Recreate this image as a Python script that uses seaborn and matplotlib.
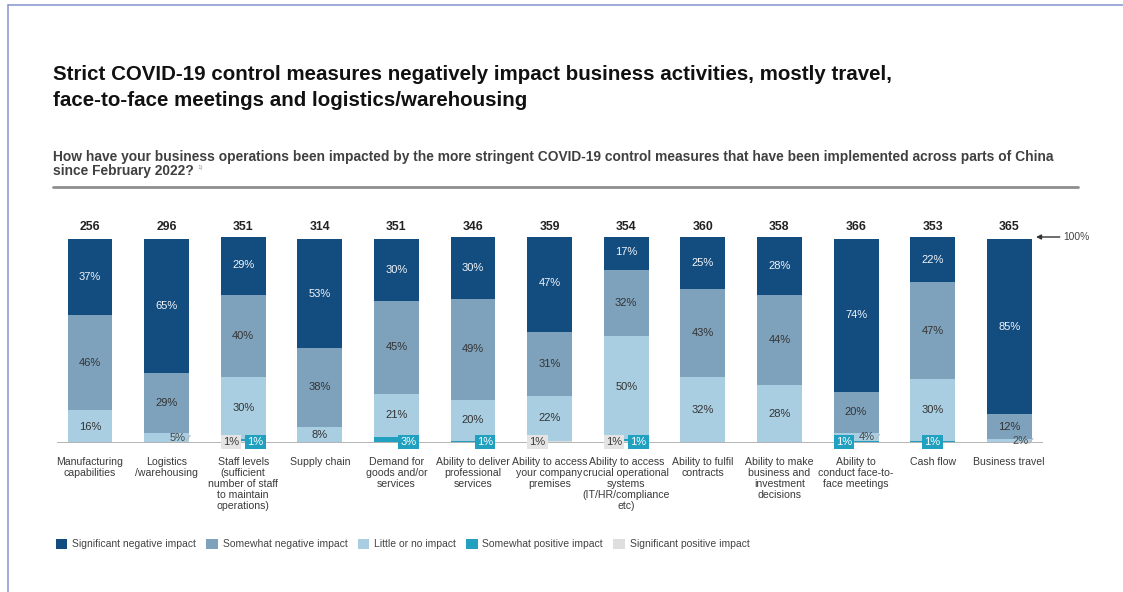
import matplotlib
matplotlib.use("Agg")
import matplotlib.pyplot as plt
from matplotlib.lines import Line2D
from matplotlib.patches import Patch
import pandas as pd
import seaborn as sns

# ---- data -------------------------------------------------------------
categories = [
    "Manufacturing\ncapabilities",
    "Logistics\n/warehousing",
    "Staff levels\n(sufficient\nnumber of staff\nto maintain\noperations)",
    "Supply chain",
    "Demand for\ngoods and/or\nservices",
    "Ability to deliver\nprofessional\nservices",
    "Ability to access\nyour company\npremises",
    "Ability to access\ncrucial operational\nsystems\n(IT/HR/compliance\netc)",
    "Ability to fulfil\ncontracts",
    "Ability to make\nbusiness and\ninvestment\ndecisions",
    "Ability to\nconduct face-to-\nface meetings",
    "Cash flow",
    "Business travel",
]
respondents = [256, 296, 351, 314, 351, 346, 359, 354, 360, 358, 366, 353, 365]

significant_negative = [37, 65, 29, 53, 30, 30, 47, 17, 25, 28, 74, 22, 85]
somewhat_negative = [46, 29, 40, 38, 45, 49, 31, 32, 43, 44, 20, 47, 12]
little_or_none = [16, 5, 30, 8, 21, 20, 22, 50, 32, 28, 4, 30, 2]
somewhat_positive = [0, 0, 1, 0, 3, 1, 0, 1, 0, 0, 1, 1, 0]
significant_positive = [0, 0, 1, 0, 0, 0, 1, 1, 0, 0, 0, 0, 0]

series_names = [
    "Significant negative impact",
    "Somewhat negative impact",
    "Little or no impact",
    "Somewhat positive impact",
    "Significant positive impact",
]

# ---- style ------------------------------------------------------------
sns.set_theme(style="white")
plt.rcParams["font.family"] = ["Liberation Sans", "DejaVu Sans"]

colors = ["#134d80", "#7fa2bc", "#a9cee1", "#21a0c0", "#dedede"]
BAR_W = 0.587
LABEL_FS = 8

fig = plt.figure(figsize=(11.23, 5.92), dpi=100)
ax = fig.add_axes([57 / 1123, 1 - 443 / 592, 986 / 1123, 206 / 592])

# series listed top of the stack first; the stack is built bottom-up
series_top_down = [significant_negative, somewhat_negative, little_or_none,
                   somewhat_positive, significant_positive]

# draw cumulative heights so each lower layer paints over the one above it
for k, color in enumerate(colors):
    heights = [sum(s[i] for s in series_top_down[k:]) for i in range(len(categories))]
    df = pd.DataFrame({"category": categories, "share": heights})
    sns.barplot(data=df, x="category", y="share", order=categories, color=color,
                saturation=1, width=BAR_W, linewidth=0, errorbar=None, ax=ax)

ax.set_xlim(-0.431, 12.441)
ax.set_ylim(0, 100)
sns.despine(ax=ax, left=True, bottom=True)
ax.set_ylabel("")
ax.set_xlabel("")
ax.set_yticks([])
ax.set_xticks(range(len(categories)))
ax.set_xticklabels(categories, fontsize=7.6, color="#3a3a3a", linespacing=1.12)
ax.tick_params(axis="x", length=0, pad=10)
ax.axhline(0, color="#b4b4b4", lw=1.4, zorder=5)

# ---- segment labels ---------------------------------------------------
positive_box_align = {2: "right", 4: "right", 5: "right", 7: "right", 10: "left", 11: "center"}
stack_bottom_up = list(reversed(series_top_down))  # sig. positive ... sig. negative
for i in range(len(categories)):
    base = 0
    for j, values in enumerate(stack_bottom_up):
        v = values[i]
        mid = base + v / 2
        base += v
        if v <= 0:
            continue
        if v >= 8:
            ax.text(i, mid, f"{v}%", ha="center", va="center", fontsize=LABEL_FS,
                    color="#f2f5f9" if j == 4 else "#333333", zorder=6)
        elif j == 2:
            ax.text(i + BAR_W / 2 - 0.045, mid, f"{v}%", ha="right", va="center",
                    fontsize=LABEL_FS, color="#444444", zorder=6)
            ax.plot([i + BAR_W / 2 - 0.035, i + BAR_W / 2 + 0.015], [mid - 1.2, mid + 1.2],
                    color="#bbbbbb", lw=0.8, zorder=6, clip_on=False)
        elif j == 1:
            align = positive_box_align.get(i, "center")
            x = {"left": i - BAR_W / 2 + 0.03, "right": i + BAR_W / 2 - 0.03,
                 "center": i}[align]
            ax.text(x, 0.4, f"{v}%", ha=align, va="center", fontsize=LABEL_FS,
                    color="white", zorder=7,
                    bbox=dict(boxstyle="square,pad=0.2", fc=colors[3], ec="none"))
        else:
            ax.text(i - BAR_W / 2 + 0.03, 0.4, f"{v}%", ha="left", va="center",
                    fontsize=LABEL_FS, color="#3a3a3a", zorder=7,
                    bbox=dict(boxstyle="square,pad=0.2", fc="#e4e4e4", ec="none"))

# respondent counts above each bar
for i, n in enumerate(respondents):
    ax.text(i, 105, str(n), ha="center", va="center", fontsize=8.8,
            fontweight="bold", color="#222222")

# 100% marker
ax.annotate("", xy=(12.35, 100), xytext=(12.66, 100), annotation_clip=False,
            arrowprops=dict(arrowstyle="-|>", color="#333333", lw=1,
                            mutation_scale=7, shrinkA=0, shrinkB=0))
ax.text(12.70, 100, "100%", ha="left", va="center", fontsize=7.4, color="#444444")

# ---- titles -----------------------------------------------------------
title_font = ["Liberation Sans Narrow", "Liberation Sans", "DejaVu Sans"]
fig.text(53 / 1123, 1 - 75 / 592,
         "Strict COVID-19 control measures negatively impact business activities, mostly travel,",
         family=title_font, fontweight="bold", fontsize=14.8, color="#111111", va="center")
fig.text(53 / 1123, 1 - 101 / 592,
         "face-to-face meetings and logistics/warehousing",
         family=title_font, fontweight="bold", fontsize=14.8, color="#111111", va="center")

fig.text(53 / 1123, 1 - 157 / 592,
         "How have your business operations been impacted by the more stringent COVID-19 "
         "control measures that have been implemented across parts of China",
         fontsize=9.9, fontweight="bold", color="#404040", va="center")
sub2 = fig.text(53 / 1123, 1 - 171 / 592, "since February 2022?",
                fontsize=9.9, fontweight="bold", color="#404040", va="center")
ax.annotate("1)", xy=(1, 1), xycoords=sub2, xytext=(2.5, -1), textcoords="offset points",
            fontsize=4.5, color="#9a9a9a", va="top", ha="left", annotation_clip=False)

fig.add_artist(Line2D([53 / 1123, 1078 / 1123], [1 - 187 / 592] * 2,
                      color="#8e8e8e", lw=2, transform=fig.transFigure))

# page frame
frame = "#8495cf"
fig.add_artist(Line2D([8 / 1123, 1], [1 - 5 / 592] * 2, color=frame, lw=1.1,
                      transform=fig.transFigure))
fig.add_artist(Line2D([8 / 1123] * 2, [0, 1 - 5 / 592], color=frame, lw=1.1,
                      transform=fig.transFigure))

# ---- legend -----------------------------------------------------------
handles = [Patch(facecolor=c, edgecolor="none") for c in colors]
leg = fig.legend(handles, series_names, loc="center left",
                 bbox_to_anchor=(56 / 1123, 1 - 544 / 592), ncol=5, frameon=False,
                 fontsize=7.5, handlelength=1.1, handleheight=1.1, handletextpad=0.45,
                 columnspacing=1.0, borderaxespad=0, borderpad=0)
for t in leg.get_texts():
    t.set_color("#444444")

fig.savefig("out.png", dpi=100)
